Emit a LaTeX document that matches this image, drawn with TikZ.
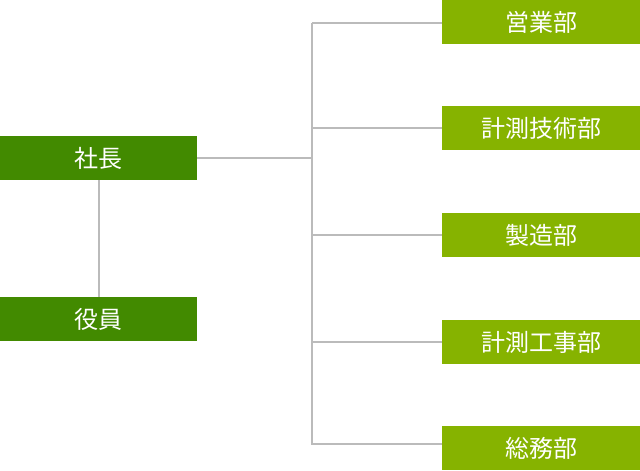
\documentclass[tikz,border=0pt]{standalone}
\usepackage{fontspec}
\newfontfamily\cjk{Noto Sans CJK JP}
\usepackage{tikz}
\usetikzlibrary{calc}
\definecolor{topgreen}{HTML}{428A00}
\definecolor{deptgreen}{HTML}{86B300}
\definecolor{linegray}{HTML}{BBBBBB}
\tikzset{
  headbox/.style={fill=topgreen,text=white,minimum width=197pt,minimum height=44pt,inner sep=0pt,font=\cjk\fontsize{24}{28}\selectfont},
  deptbox/.style={fill=deptgreen,text=white,minimum width=198pt,minimum height=44pt,inner sep=0pt,font=\cjk\fontsize{24}{28}\selectfont},
  orgline/.style={draw=linegray,line width=2pt}
}

\begin{document}
\begin{tikzpicture}[x=1pt,y=-1pt]
\useasboundingbox (0,0) rectangle (640,471);
% Geschaeftsleitung
\node[headbox] (shacho) at (98.5,158) {社長};
\node[headbox] (yakuin) at (98.5,319) {役員};
% Abteilungen
\node[deptbox] (eigyo) at (541,22) {営業部};
\node[deptbox] (gijutsu) at (541,128) {計測技術部};
\node[deptbox] (seizo) at (541,235) {製造部};
\node[deptbox] (koji) at (541,342) {計測工事部};
\node[deptbox] (somu) at (541,448) {総務部};
% Verzweigung
\coordinate (hub) at (312,158);
\coordinate (hubtop) at (312,23);
\coordinate (hubbot) at (312,444);
\draw[orgline] (shacho.south) -- (yakuin.north);
\draw[orgline] (shacho.east) -- (hub);
\draw[orgline] (hubtop) -- (eigyo.west |- hubtop) (hubtop) -- (hubbot) -- (somu.west |- hubbot);
\draw[orgline] (hub |- gijutsu.west) -- (gijutsu.west);
\draw[orgline] (hub |- seizo.west) -- (seizo.west);
\draw[orgline] (hub |- koji.west) -- (koji.west);
\end{tikzpicture}
\end{document}
